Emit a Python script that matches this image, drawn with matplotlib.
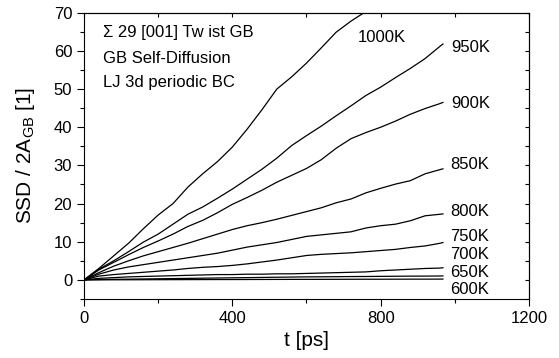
import matplotlib as mpl
mpl.use('Agg')
import matplotlib.pyplot as plt
from matplotlib.ticker import MultipleLocator

plt.rcParams['font.family'] = ['Liberation Sans', 'DejaVu Sans']
plt.rcParams['mathtext.default'] = 'regular'

# time axis of the MD runs [ps]
t = [0, 40, 80, 120, 160, 200, 240, 280, 320, 360, 400, 440, 480, 520,
     560, 600, 640, 680, 720, 760, 800, 840, 880, 920, 960, 968]

# SSD / 2A_GB for each temperature, same sampling as t
ssd_1000 = [0, 3.0, 6.3, 9.6, 13.4, 17.0, 20.0, 24.3, 27.8, 31.0, 34.8,
            39.5, 44.6, 50.0, 53.2, 56.8, 60.8, 64.9, 67.8, 70.3, 73.5,
            76.5, 79.5, 82.5, 85.5, 86.0]
ssd_950 = [0, 2.8, 5.0, 7.4, 9.9, 12.0, 14.6, 17.2, 19.1, 21.4, 23.8,
           26.4, 29.0, 31.9, 35.2, 37.8, 40.3, 43.0, 45.6, 48.3, 50.5,
           53.0, 55.4, 58.0, 61.2, 61.8]
ssd_900 = [0, 2.6, 4.6, 6.6, 8.5, 10.2, 12.0, 14.0, 15.6, 17.6, 19.8,
           21.6, 23.5, 25.6, 27.4, 29.2, 31.5, 34.5, 37.0, 38.6, 40.0,
           41.6, 43.4, 44.9, 46.2, 46.5]
ssd_850 = [0, 1.9, 3.6, 5.0, 6.3, 7.4, 8.5, 9.6, 10.8, 12.0, 13.2,
           14.2, 15.0, 15.9, 16.9, 17.9, 18.9, 20.2, 21.2, 22.8, 24.0,
           25.1, 26.0, 27.8, 28.9, 29.1]
ssd_800 = [0, 1.5, 2.6, 3.4, 4.0, 4.6, 5.2, 5.8, 6.4, 7.0, 7.8,
           8.6, 9.2, 9.8, 10.6, 11.4, 11.8, 12.2, 12.6, 13.6, 14.2,
           14.6, 15.5, 16.8, 17.2, 17.3]
ssd_750 = [0, 1.0, 1.4, 1.7, 2.0, 2.3, 2.6, 3.0, 3.3, 3.5, 3.8,
           4.2, 4.7, 5.2, 5.8, 6.4, 6.7, 6.9, 7.1, 7.4, 7.7,
           8.0, 8.5, 8.9, 9.6, 9.8]
ssd_700 = [0, 0.4, 0.6, 0.8, 0.9, 1.0, 1.1, 1.2, 1.3, 1.4, 1.4,
           1.5, 1.5, 1.6, 1.6, 1.7, 1.8, 1.9, 2.0, 2.1, 2.4,
           2.6, 2.8, 3.0, 3.1, 3.2]
ssd_650 = [0, 0.1, 0.15, 0.2, 0.25, 0.3, 0.35, 0.4, 0.45, 0.5, 0.55,
           0.6, 0.65, 0.7, 0.75, 0.8, 0.82, 0.85, 0.88, 0.9, 0.93,
           0.96, 0.99, 1.0, 1.03, 1.05]
ssd_600 = [0, 0.02, 0.03, 0.04, 0.05, 0.06, 0.07, 0.08, 0.09, 0.1, 0.1,
           0.11, 0.12, 0.13, 0.14, 0.15, 0.15, 0.16, 0.17, 0.18, 0.18,
           0.19, 0.2, 0.2, 0.21, 0.22]

curves = [ssd_1000, ssd_950, ssd_900, ssd_850, ssd_800,
          ssd_750, ssd_700, ssd_650, ssd_600]
labels = ['1000K', '950K', '900K', '850K', '800K',
          '750K', '700K', '650K', '600K']
# where each temperature tag sits (t, SSD)
label_t = [739, 990, 990, 987, 987, 987, 987, 987, 987]
label_y = [63.4, 61.0, 46.3, 30.2, 17.9, 11.3, 6.6, 2.0, -2.5]

info_lines = ['\u03a3 29 [001] Tw ist GB', 'GB Self-Diffusion', 'LJ 3d periodic BC']
info_y = [64.7, 58.1, 51.8]

fig = plt.figure(figsize=(5.59, 3.58), dpi=100)
ax = fig.add_axes([0.1503, 0.1648, 0.796, 0.7997])

for ys in curves:
    ax.plot(t, ys, color='black', lw=0.9)

for lab, lt, ly in zip(labels, label_t, label_y):
    ax.text(lt, ly, lab, fontsize=12, ha='left', va='center')

for line, y in zip(info_lines, info_y):
    ax.text(51, y, line, fontsize=12, ha='left', va='center')

ax.set_xlim(0, 1200)
ax.set_ylim(-5, 70)
ax.xaxis.set_major_locator(MultipleLocator(400))
ax.xaxis.set_minor_locator(MultipleLocator(200))
ax.yaxis.set_major_locator(MultipleLocator(10))
ax.yaxis.set_minor_locator(MultipleLocator(5))
ax.set_yticks(range(0, 71, 10))
ax.tick_params(which='major', direction='out', length=5, width=0.8,
               labelsize=12, top=False, right=False)
ax.tick_params(which='minor', direction='out', length=3, width=0.8,
               top=False, right=False)

# inward ticks without labels on top and right
top = ax.secondary_xaxis('top')
top.xaxis.set_major_locator(MultipleLocator(200))
top.tick_params(direction='in', length=3, width=0.8, labeltop=False)
right = ax.secondary_yaxis('right')
right.yaxis.set_major_locator(MultipleLocator(5))
right.tick_params(direction='in', length=3, width=0.8, labelright=False)

ax.set_xlabel('t [ps]', fontsize=15, labelpad=4)
ax.set_ylabel('SSD / 2A$_{GB}$ [1]', fontsize=15, labelpad=12)

fig.savefig('out.png', dpi=100)
plt.close('all')
